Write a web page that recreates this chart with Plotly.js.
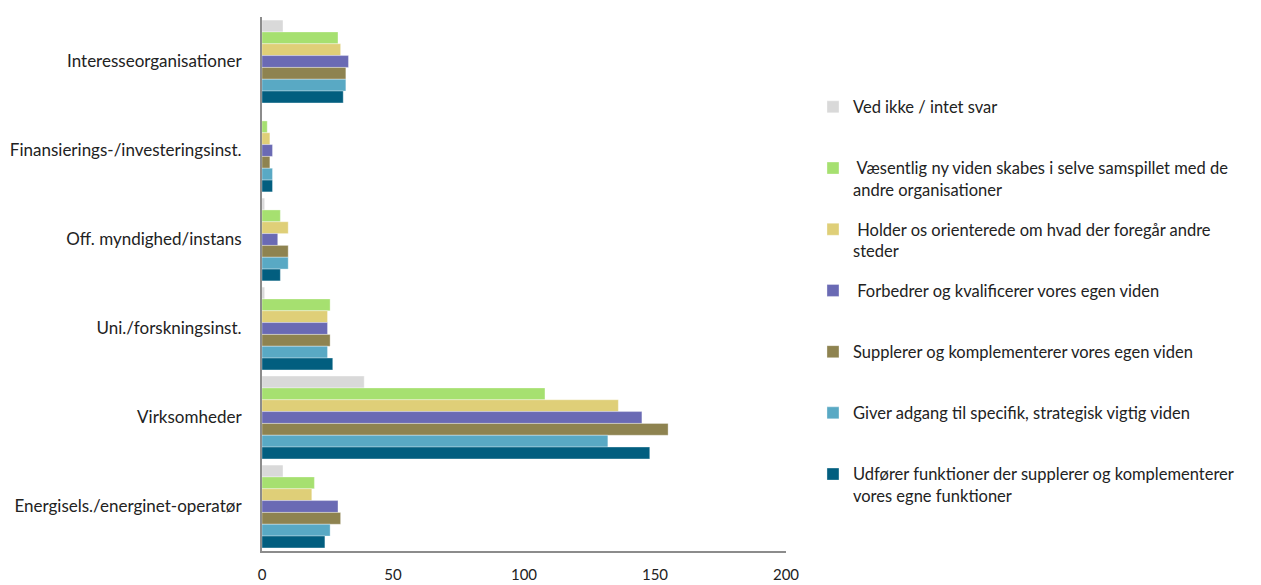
<!DOCTYPE html>
<html>
<head>
<meta charset="utf-8">
<script src="https://cdn.plot.ly/plotly-3.0.1.min.js"></script>
<style>html,body{margin:0;padding:0;background:#fff;}#chart{width:1261px;height:585px;}</style>
</head>
<body>
<div id="chart"></div>
<script>
const categories = [
  "Interesseorganisationer",
  "Finansierings-/investeringsinst.",
  "Off. myndighed/instans",
  "Uni./forskningsinst.",
  "Virksomheder",
  "Energisels./energinet-operatør"
];
const seriesNames = [
  "Ved ikke / intet svar",
  " Væsentlig ny viden skabes i selve samspillet med de<br>andre organisationer",
  " Holder os orienterede om hvad der foregår andre<br>steder",
  " Forbedrer og kvalificerer vores egen viden",
  "Supplerer og komplementerer vores egen viden",
  "Giver adgang til specifik, strategisk vigtig viden",
  "Udfører funktioner der supplerer og komplementerer<br>vores egne funktioner"
];
const vedIkke    = [8, 0, 1, 1, 39, 8];
const vaesentlig = [29, 2, 7, 26, 108, 20];
const holder     = [30, 3, 10, 25, 136, 19];
const forbedrer  = [33, 4, 6, 25, 145, 29];
const supplerer  = [32, 3, 10, 26, 155, 30];
const giver      = [32, 4, 10, 25, 132, 26];
const udfoerer   = [31, 4, 7, 27, 148, 24];
const seriesValues = [vedIkke, vaesentlig, holder, forbedrer, supplerer, giver, udfoerer];
const colors = ["#d9d9d9", "#a6e070", "#dfcf78", "#6a6ab4", "#8e8350", "#59a9c4", "#025e7f"];
const xTicks = [0, 50, 100, 150, 200];

const traces = seriesValues.map((vals, i) => {
  let name = seriesNames[i];
  if (name.indexOf("<br>") < 0) name = name + "<br>&nbsp;";
  return {
    type: "bar",
    orientation: "h",
    name: name,
    x: vals,
    y: categories,
    legendgroup: "g" + i,
    marker: {color: colors[i], line: {color: "rgba(255,255,255,0.55)", width: 0.6}},
    hoverinfo: "x+y"
  };
});

const layout = {
  width: 1261,
  height: 585,
  margin: {l: 262, r: 475, t: 17, b: 34},
  paper_bgcolor: "#fff",
  plot_bgcolor: "#fff",
  font: {family: "Lato, 'Open Sans', sans-serif", size: 16.5, color: "#222"},
  barmode: "group",
  bargap: 0.07,
  bargroupgap: 0,
  showlegend: true,
  legend: {
    x: 1.0515, xanchor: "left",
    y: 0.864, yanchor: "top",
    traceorder: "grouped",
    tracegroupgap: 15.3,
    valign: "top",
    font: {size: 16.5, color: "#222"},
    itemclick: false, itemdoubleclick: false
  },
  xaxis: {
    range: [0, 200],
    tickvals: xTicks,
    ticktext: xTicks.map(String),
    showgrid: false,
    zeroline: false,
    showline: true,
    linecolor: "#8c8c8c",
    linewidth: 2,
    ticks: "",
    ticklabelstandoff: 9,
    tickfont: {size: 15, color: "#222"},
    fixedrange: true
  },
  yaxis: {
    autorange: "reversed",
    type: "category",
    showgrid: false,
    zeroline: false,
    showline: true,
    linecolor: "#8c8c8c",
    linewidth: 2,
    ticks: "",
    ticklabelstandoff: 15,
    tickfont: {size: 17, color: "#222"},
    fixedrange: true
  }
};

Plotly.newPlot("chart", traces, layout, {displayModeBar: false, staticPlot: true});
</script>
</body>
</html>
